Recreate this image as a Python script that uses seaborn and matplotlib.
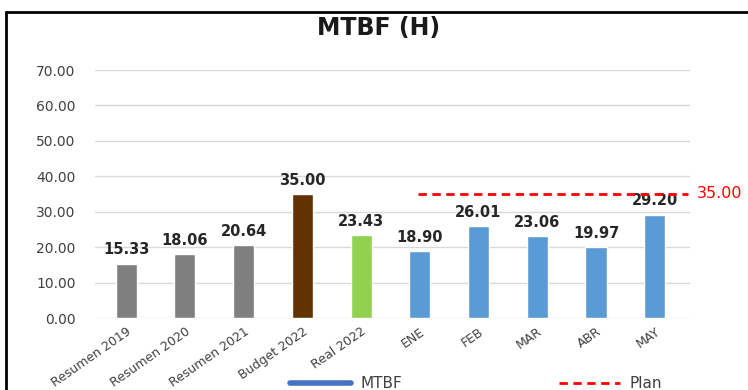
import matplotlib
matplotlib.use("Agg")
import matplotlib.pyplot as plt
from matplotlib.lines import Line2D
import seaborn as sns
import pandas as pd

# Chart data
categories = ["Resumen 2019", "Resumen 2020", "Resumen 2021", "Budget 2022",
              "Real 2022", "ENE", "FEB", "MAR", "ABR", "MAY"]
mtbf = [15.33, 18.06, 20.64, 35.00, 23.43, 18.90, 26.01, 23.06, 19.97, 29.20]
plan_months = ["ENE", "FEB", "MAR", "ABR", "MAY"]
plan_value = 35.00
y_ticks = [0, 10, 20, 30, 40, 50, 60, 70]

bar_colors = ["#7F7F7F", "#7F7F7F", "#7F7F7F", "#623300", "#92D050",
              "#5B9BD5", "#5B9BD5", "#5B9BD5", "#5B9BD5", "#5B9BD5"]

sns.set_theme(style="white")
plt.rcParams["font.family"] = ["DejaVu Sans"]

df = pd.DataFrame({"cat": categories, "val": mtbf})

fig = plt.figure(figsize=(7.48, 3.90), dpi=100)
ax = fig.add_axes([95 / 748, 1 - 318 / 390, (690 - 95) / 748, (318 - 70) / 390])

sns.barplot(data=df, x="cat", y="val", hue="cat", palette=bar_colors,
            legend=False, width=0.36, saturation=1, ax=ax)

for cont in ax.containers:
    ax.bar_label(cont, fmt="%.2f", padding=4.5, fontsize=10.5,
                 fontweight="bold", color="#262626")

# Plan line across the monthly bars
idx = [categories.index(m) for m in plan_months]
ax.hlines(plan_value, idx[0] - 0.03, idx[-1] + 0.56, colors="#FF0000",
          linestyles=(0, (3, 2)), linewidth=2, zorder=4, clip_on=False)
ax.text(idx[-1] + 0.72, plan_value, f"{plan_value:.2f}", color="#FF0000",
        fontsize=11.5, va="center", ha="left", clip_on=False)

ax.set_ylim(0, 70)
ax.set_xlim(-0.53, 9.6)
ax.set_yticks(y_ticks)
ax.set_yticklabels([f"{v:.2f}" for v in y_ticks], fontsize=10, color="#404040")
ax.tick_params(axis="y", length=0, pad=14)
ax.tick_params(axis="x", length=0, pad=5)
plt.setp(ax.get_xticklabels(), rotation=35, ha="right", rotation_mode="anchor",
         fontsize=9, color="#404040")
ax.set_xlabel("")
ax.set_ylabel("")
ax.grid(axis="y", color="#D9D9D9", linewidth=1)
ax.set_axisbelow(True)
for s in ax.spines.values():
    s.set_visible(False)

ax.set_title("MTBF (H)", fontsize=17, fontweight="bold", color="#1a1a1a",
             x=(379 - 95) / (690 - 95), y=1 + (70 - 28) / (318 - 70),
             pad=0, va="center")

handles = [Line2D([0], [0], color="#4472C4", lw=4),
           Line2D([0], [0], color="#FF0000", lw=2, linestyle=(0, (3, 2)))]
fig.legend(handles, ["MTBF", "Plan"], loc="center", ncol=2,
           bbox_to_anchor=(476 / 748, 1 - 384 / 390), frameon=False,
           fontsize=11, handlelength=4, handletextpad=0.6, columnspacing=10.3,
           labelcolor="#404040")

# Outer frame (top and left edges)
fig.add_artist(Line2D([6 / 748, 6 / 748], [0, 1 - 12 / 390],
                      color="black", lw=2, transform=fig.transFigure))
fig.add_artist(Line2D([6 / 748, 1], [1 - 12 / 390, 1 - 12 / 390],
                      color="black", lw=2, transform=fig.transFigure))

fig.savefig("out.png", dpi=100)
